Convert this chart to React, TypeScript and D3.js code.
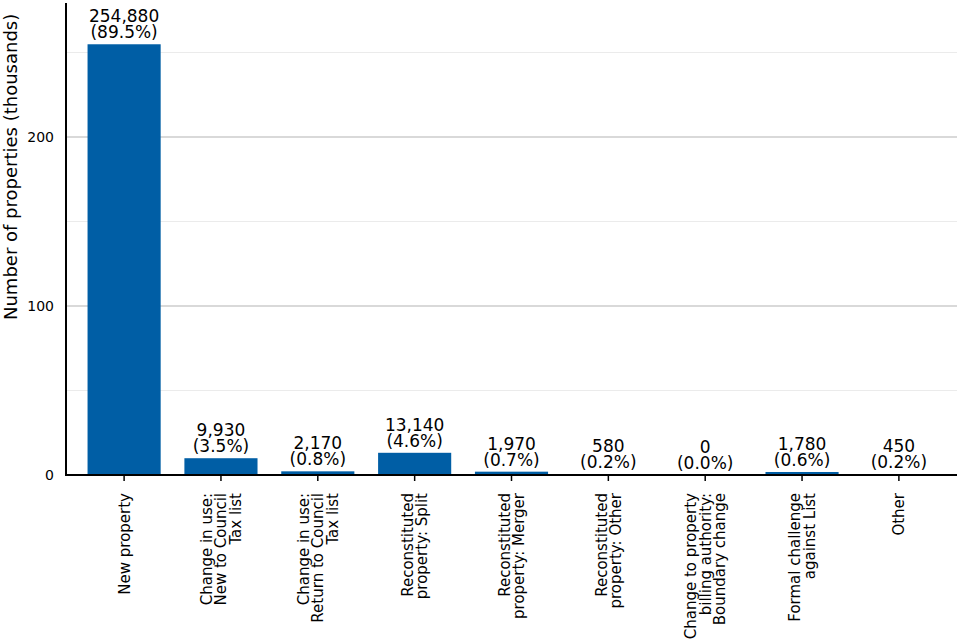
import React from "react";
import * as d3 from "d3";

const categories: string[][] = [
  ["New property"],
  ["Change in use:", "New to Council", "Tax list"],
  ["Change in use:", "Return to Council", "Tax list"],
  ["Reconstituted", "property: Split"],
  ["Reconstituted", "property: Merger"],
  ["Reconstituted", "property: Other"],
  ["Change to property", "billing authority:", "Boundary change"],
  ["Formal challenge", "against List"],
  ["Other"],
];
const values: number[] = [254880, 9930, 2170, 13140, 1970, 580, 0, 1780, 450];
const shares: string[] = ["89.5%", "3.5%", "0.8%", "4.6%", "0.7%", "0.2%", "0.0%", "0.6%", "0.2%"];
const majorTicks: number[] = [0, 100, 200];
const minorTicks: number[] = [50, 150, 250];

const W = 960, H = 640;
const left = 66, right = 957, top = 3, bottom = 475;
const font = "DejaVu Sans, sans-serif";

export default function App() {
  const x = d3
    .scaleBand<number>()
    .domain(values.map((_, i) => i))
    .range([left, right])
    .paddingInner(0.245)
    .paddingOuter(0.2225);
  const y = d3.scaleLinear().domain([0, 279.3]).range([bottom, top]);
  const fmt = d3.format(",");

  return (
    <svg width={W} height={H} style={{ position: "absolute", left: 0, top: 0, background: "#fff" }} fontFamily={font}>
      {minorTicks.map((t) => (
        <line key={"mi" + t} x1={left} x2={right} y1={y(t)} y2={y(t)} stroke="#e6e6e6" strokeWidth={0.8} />
      ))}
      {majorTicks.filter((t) => t > 0).map((t) => (
        <line key={"ma" + t} x1={left} x2={right} y1={y(t)} y2={y(t)} stroke="#cccccc" strokeWidth={1.6} />
      ))}
      {values.map((v, i) => (
        <rect key={"b" + i} x={x(i)} width={x.bandwidth()} y={y(v / 1000)} height={bottom - y(v / 1000)} fill="#005ea5" />
      ))}
      {values.map((v, i) => {
        const cx = (x(i) as number) + x.bandwidth() / 2;
        const yt = y(v / 1000);
        return (
          <g key={"l" + i} fontSize={17} textAnchor="middle" fill="#000">
            <text x={cx} y={yt - 22}>{fmt(v)}</text>
            <text x={cx} y={yt - 6}>({shares[i]})</text>
          </g>
        );
      })}
      <line x1={left} x2={left} y1={top} y2={bottom + 1} stroke="#000" strokeWidth={2} />
      <line x1={left - 1} x2={right} y1={bottom} y2={bottom} stroke="#000" strokeWidth={2} />
      {majorTicks.map((t) => (
        <text key={"yt" + t} x={54} y={y(t)} dy="0.35em" textAnchor="end" fontSize={14}>
          {t}
        </text>
      ))}
      {categories.map((lines, i) => {
        const cx = (x(i) as number) + x.bandwidth() / 2;
        const lh = 14.5;
        const n = lines.length;
        return (
          <g key={"xt" + i}>
            <line x1={cx} x2={cx} y1={bottom} y2={bottom + 6} stroke="#000" strokeWidth={1.5} />
            {lines.map((ln, j) => (
              <text
                key={j}
                transform={`translate(${cx + (j - (n - 1) / 2) * lh + 5.5},${bottom + 18}) rotate(-90)`}
                textAnchor="end"
                fontSize={15}
              >
                {ln}
              </text>
            ))}
          </g>
        );
      })}
      <text transform={`translate(17,320) rotate(-90)`} textAnchor="start" fontSize={18}>
        Number of properties (thousands)
      </text>
    </svg>
  );
}
